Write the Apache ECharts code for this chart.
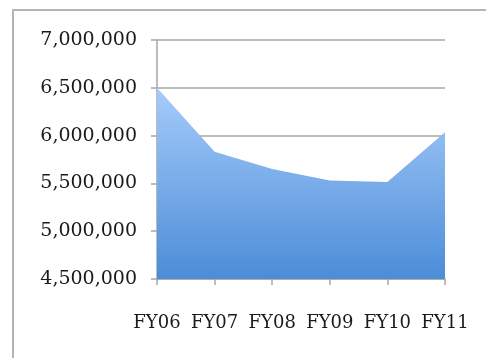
<!DOCTYPE html>
<html>
<head>
<meta charset="utf-8">
<script src="https://cdn.jsdelivr.net/npm/echarts@6/dist/echarts.min.js"></script>
<style>
  html, body { margin: 0; padding: 0; background: #fff; }
  #chart { width: 486px; height: 358px; }
</style>
</head>
<body>
<div id="chart"></div>
<script>
// fiscal years and totals
var years = ['FY06', 'FY07', 'FY08', 'FY09', 'FY10', 'FY11']
var totals = [6500000, 5830000, 5650000, 5530000, 5515000, 6035000]

var chart = echarts.init(document.getElementById('chart'))

var option = {
  animation: false,
  textStyle: { fontFamily: 'DejaVu Serif' },
  graphic: [
    {
      type: 'rect',
      shape: { x: 13, y: 10, width: 520, height: 400 },
      style: { fill: 'none', stroke: '#b4b4b4', lineWidth: 2 },
      silent: true
    }
  ],
  grid: {
    left: 157,
    right: 41,
    top: 40,
    bottom: 79
  },
  xAxis: {
    type: 'category',
    boundaryGap: false,
    data: years,
    axisLine: { lineStyle: { color: '#a6a6a6', width: 1.5 } },
    axisTick: { show: true, interval: 0, length: 6, lineStyle: { color: '#a6a6a6', width: 1.5 } },
    axisLabel: { interval: 0, color: '#1a1a1a', fontSize: 18, margin: 35, fontFamily: 'DejaVu Serif' },
    splitLine: { show: false }
  },
  yAxis: {
    type: 'value',
    min: 4500000,
    max: 7000000,
    interval: 500000,
    axisLine: { show: true, lineStyle: { color: '#a6a6a6', width: 1.5 } },
    axisTick: { show: true, length: 6, lineStyle: { color: '#a6a6a6', width: 1.5 } },
    splitLine: { lineStyle: { color: '#a6a6a6', width: 1.5 } },
    axisLabel: {
      color: '#1a1a1a',
      fontSize: 19,
      margin: 20,
      fontFamily: 'DejaVu Serif',
      formatter: function (v) {
        return v.toString().replace(/\B(?=(\d{3})+(?!\d))/g, ',')
      }
    }
  },
  series: [
    {
      type: 'line',
      data: totals,
      symbol: 'none',
      lineStyle: { width: 0 },
      areaStyle: {
        opacity: 1,
        color: new echarts.graphic.LinearGradient(0, 0, 0, 1, [
          { offset: 0, color: '#a6cbfa' },
          { offset: 1, color: '#4b8dd8' }
        ])
      }
    }
  ]
}
chart.setOption(option)
</script>
</body>
</html>
